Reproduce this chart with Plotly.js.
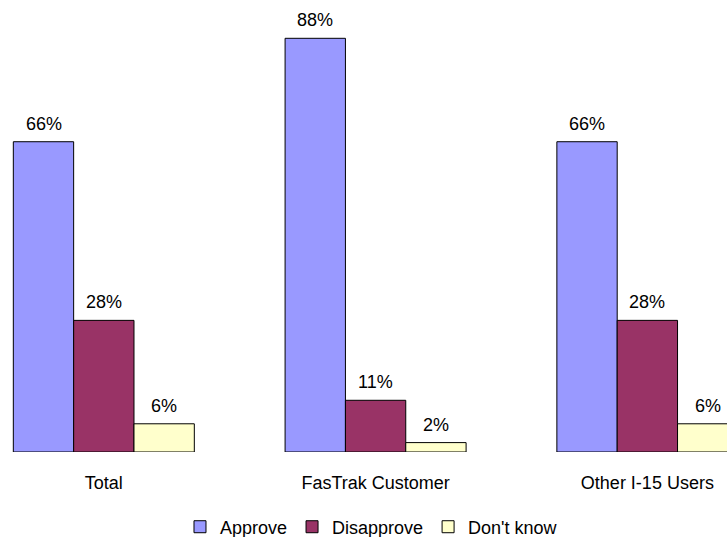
<!DOCTYPE html>
<html>
<head>
<meta charset="utf-8">
<script src="https://cdn.plot.ly/plotly-3.0.1.min.js"></script>
<style>html,body{margin:0;padding:0;background:#fff;}#chart{width:727px;height:537px;}</style>
</head>
<body>
<div id="chart"></div>
<script>
var categories = ["Total", "FasTrak Customer", "Other I-15 Users"];
var seriesNames = ["Approve", "Disapprove", "Don't know"];
var approve = [66, 88, 66];
var disapprove = [28, 11, 28];
var dontKnow = [6, 2, 6];
var colors = ["#9999FF", "#993366", "#FFFFCC"];

var values = [approve, disapprove, dontKnow];
var font = {family: "Liberation Sans, Arial, sans-serif", size: 18, color: "#000"};

var traces = values.map(function (v, i) {
  return {
    type: "bar",
    name: seriesNames[i],
    x: categories,
    y: v,
    marker: {color: colors[i], line: {color: "#000", width: 1}},
    hoverinfo: "none"
  };
});

// value labels placed above each bar via the axis scales
var barPx = 60.3;
var annotations = [];
values.forEach(function (v, i) {
  v.forEach(function (d, j) {
    annotations.push({
      x: categories[j], y: d, xref: "x", yref: "y",
      xshift: (i - 1) * barPx, yshift: 18,
      yanchor: "middle", xanchor: "center",
      text: d + "%", showarrow: false, font: font
    });
  });
});

var layout = {
  width: 727,
  height: 537,
  margin: {l: 0, r: 0, t: 0, b: 85, autoexpand: false},
  paper_bgcolor: "#fff",
  plot_bgcolor: "#fff",
  font: font,
  barmode: "group",
  bargap: 0.334,
  bargroupgap: 0,
  showlegend: true,
  legend: {
    orientation: "h",
    x: 0.511, xanchor: "center",
    y: -0.166, yanchor: "middle",
    font: font,
    itemwidth: 30,
    traceorder: "normal"
  },
  annotations: annotations,
  xaxis: {
    type: "category",
    range: [-0.382, 2.293],
    showline: false,
    showgrid: false,
    zeroline: false,
    ticks: "outside",
    ticklen: 14,
    tickcolor: "rgba(0,0,0,0)",
    tickfont: font,
    fixedrange: true
  },
  yaxis: {
    range: [0, 96.15],
    visible: false,
    showgrid: false,
    zeroline: false,
    fixedrange: true
  }
};

Plotly.newPlot("chart", traces, layout, {displayModeBar: false, staticPlot: true});
</script>
</body>
</html>
